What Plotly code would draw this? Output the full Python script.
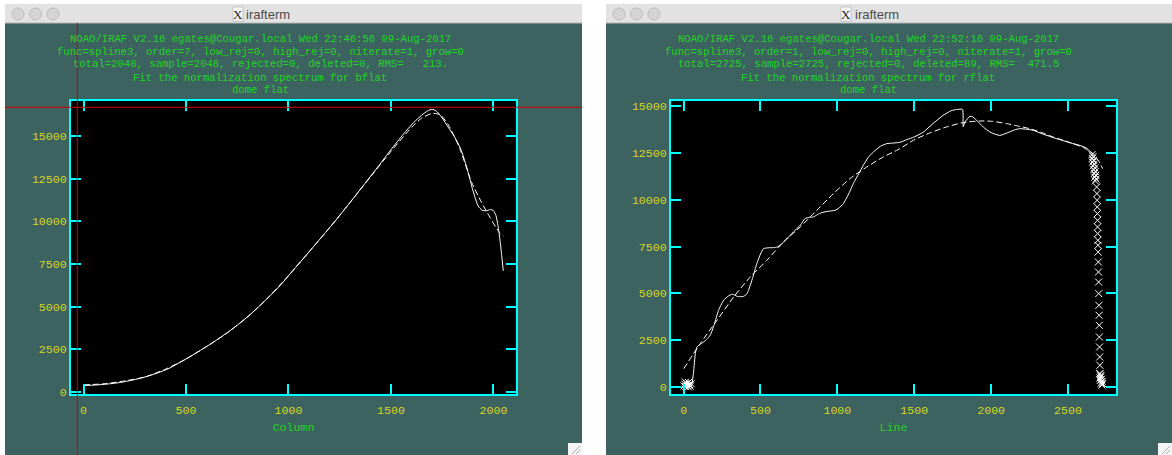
import plotly.graph_objects as go

W, H = 1172, 455

# ---------------- data ----------------
bflat_col = [1, 60, 120, 180, 240, 300, 360, 420, 480, 540, 600, 660, 720, 780, 840, 900, 960, 1010,
             1060, 1110, 1160, 1220, 1300, 1380, 1440, 1500, 1560, 1610, 1650, 1680, 1700, 1720, 1750,
             1780, 1810, 1840, 1870, 1900, 1925, 1945, 1965, 1985, 2000, 2012, 2022, 2032, 2041, 2048]
bflat_counts = [380, 410, 470, 560, 700, 880, 1110, 1400, 1800, 2220, 2660, 3130, 3640, 4200, 4830, 5520,
                6250, 6950, 7650, 8350, 9050, 9900, 11100, 12330, 13250, 14200, 15100, 15780, 16220, 16480,
                16560, 16480, 16050, 15500, 14950, 14250, 13150, 11800, 10900, 10650, 10620, 10690, 10620,
                10350, 9750, 8900, 7900, 7100]
bflat_fit_col = [1, 100, 200, 300, 400, 500, 600, 700, 800, 900, 1000, 1100, 1200, 1300, 1400, 1500,
                 1600, 1650, 1700, 1740, 1780, 1836, 1893, 1941, 1982, 2031, 2048]
bflat_fit = [420, 480, 650, 880, 1340, 1930, 2660, 3450, 4400, 5520, 6820, 8200, 9620, 11100, 12600,
             14100, 15500, 16050, 16320, 16250, 15650, 14260, 12300, 11130, 10250, 9315, 9150]

rflat_line = [55, 65, 76, 87, 110, 130, 150, 173, 200, 227, 260, 290, 314, 335, 347, 370, 390, 410, 422,
              450, 476, 500, 519, 550, 584, 610, 628, 670, 714, 760, 790, 820, 844, 870, 899, 940, 985,
              1010, 1039, 1070, 1104, 1140, 1169, 1200, 1234, 1280, 1321, 1360, 1407, 1450, 1500, 1558,
              1620, 1688, 1740, 1775, 1814, 1818, 1830, 1862, 1880, 1916, 1960, 2000, 2056, 2100, 2150,
              2186, 2230, 2273, 2330, 2380, 2425, 2480, 2530, 2576, 2620, 2660]
rflat_counts = [200, 800, 1780, 2135, 2300, 2400, 2550, 2760, 3350, 4090, 4630, 4850, 4950, 4900, 4840,
                4820, 4840, 4950, 5160, 5850, 6585, 7100, 7385, 7430, 7440, 7480, 7565, 7900, 8275, 8650,
                8990, 9060, 9075, 9200, 9310, 9380, 9430, 9550, 9790, 10250, 10860, 11400, 11835, 12250,
                12545, 12850, 12990, 13020, 13060, 13200, 13350, 13600, 14050, 14500, 14750, 14810, 14820,
                13900, 14150, 14450, 14420, 14150, 13800, 13580, 13430, 13550, 13720, 13790, 13760, 13705,
                13520, 13380, 13260, 13120, 13000, 12900, 12750, 12450]
rflat_fit_line = [1, 108, 217, 325, 433, 541, 649, 758, 866, 974, 1082, 1191, 1299, 1407, 1494, 1600,
                  1710, 1820, 1927, 2010, 2100, 2180, 2251, 2330, 2403, 2470, 2532, 2600, 2662, 2700, 2725]
rflat_fit = [980, 2315, 3560, 4800, 5870, 6760, 7740, 8540, 9430, 10320, 11125, 11745, 12280, 12725,
             13170, 13560, 13880, 14120, 14200, 14180, 14060, 13920, 13790, 13580, 13345, 13170, 12990,
             12780, 12460, 12050, 11660]

# deleted points (marked with x)
rflat_del_line = [3, 8, 14, 20, 26, 32, 38, 44, 50, 12, 30,
                  2656, 2662, 2658, 2666, 2660, 2670, 2664, 2674, 2668, 2677, 2671, 2680, 2674, 2683, 2678,
                  2686, 2688, 2689, 2690, 2691, 2692, 2692, 2693, 2694, 2695, 2696, 2697, 2698, 2699, 2700,
                  2701, 2702, 2703, 2704, 2705, 2706, 2707, 2708,
                  2705, 2712, 2718, 2722, 2710, 2716, 2725, 2708, 2720, 2714]
rflat_del_counts = [60, 150, 20, 180, 90, 240, 130, 40, 170, 260, 10,
                    12400, 12300, 12200, 12100, 12000, 11900, 11800, 11700, 11600, 11500, 11400, 11300,
                    11200, 11100, 11000,
                    10676, 10324, 9966, 9609, 9256, 8899, 8541, 8189, 7831, 7564, 7207, 6673, 6139, 5605,
                    4986, 4361, 3827, 3293, 2669, 2135, 1601, 1158, 715,
                    700, 550, 420, 300, 350, 200, 180, 480, 100, 620]

left_x_ticks = [0, 500, 1000, 1500, 2000]
right_x_ticks = [0, 500, 1000, 1500, 2000, 2500]
y_ticks = [0, 2500, 5000, 7500, 10000, 12500, 15000]

title_left = ["NOAO/IRAF V2.16 egates@Cougar.local Wed 22:46:56 09-Aug-2017",
              "func=spline3, order=7, low_rej=0, high_rej=0, niterate=1, grow=0",
              "total=2048, sample=2048, rejected=0, deleted=0, RMS=   213.",
              "Fit the normalization spectrum for bflat",
              "dome flat"]
title_right = ["NOAO/IRAF V2.16 egates@Cougar.local Wed 22:52:16 09-Aug-2017",
               "func=spline3, order=1, low_rej=0, high_rej=0, niterate=1, grow=0",
               "total=2725, sample=2725, rejected=0, deleted=89, RMS=  471.5",
               "Fit the normalization spectrum for rflat",
               "dome flat"]
window_title = "irafterm"
left_xlabel = "Column"
right_xlabel = "Line"

# ---------------- styles ----------------
TEAL = "#3d6361"
CYAN = "#00ffff"
YEL = "#d6d61e"
GRN = "#22d422"
MONO = "Liberation Mono"


def px(x):
    return x / W


def py(y):
    return 1 - y / H


fig = go.Figure()
fig.add_trace(go.Scatter(x=bflat_col, y=bflat_counts, mode="lines", xaxis="x", yaxis="y",
                         line=dict(color="white", width=1, shape="spline", smoothing=0.6)))
fig.add_trace(go.Scatter(x=bflat_fit_col, y=bflat_fit, mode="lines", xaxis="x", yaxis="y",
                         line=dict(color="white", width=1, dash="6px,3px", shape="spline", smoothing=0.6)))
fig.add_trace(go.Scatter(x=rflat_line, y=rflat_counts, mode="lines", xaxis="x2", yaxis="y2",
                         line=dict(color="white", width=1, shape="spline", smoothing=0.5)))
fig.add_trace(go.Scatter(x=rflat_fit_line, y=rflat_fit, mode="lines", xaxis="x2", yaxis="y2",
                         line=dict(color="white", width=1, dash="6px,3px", shape="spline", smoothing=0.6)))
fig.add_trace(go.Scatter(x=rflat_del_line, y=rflat_del_counts, mode="markers", xaxis="x2", yaxis="y2",
                         marker=dict(symbol="x-thin", size=7, line=dict(color="white", width=1))))


def axis_common():
    return dict(ticks="inside", ticklen=10, tickwidth=2, tickcolor=CYAN, showline=True,
                linecolor=CYAN, linewidth=2, mirror="allticks", showgrid=False, zeroline=False,
                tickfont=dict(family=MONO, size=11.6, color=YEL), automargin=False,
                tickmode="array")


PL_TOP, PL_BOT = 101, 394
LX0, LX1 = 71, 516
RX0, RX1 = 671, 1116
ydom = [py(PL_BOT), py(PL_TOP)]
xa = axis_common(); xa.update(domain=[px(LX0), px(LX1)], range=[-61, 2110], anchor="y",
                              tickvals=left_x_ticks, ticktext=[str(v) for v in left_x_ticks],
                              ticklabelstandoff=4,
                              title=dict(text=left_xlabel, font=dict(family=MONO, size=11.6, color=GRN), standoff=7))
ya = axis_common(); ya.update(domain=ydom, range=[-117, 17050], anchor="x",
                              tickvals=y_ticks, ticktext=[str(v) for v in y_ticks])
xa2 = axis_common(); xa2.update(domain=[px(RX0), px(RX1)], range=[-82, 2812], anchor="y2",
                                tickvals=right_x_ticks, ticktext=[str(v) for v in right_x_ticks],
                                ticklabelstandoff=4,
                                title=dict(text=right_xlabel, font=dict(family=MONO, size=11.6, color=GRN), standoff=7))
ya2 = axis_common(); ya2.update(domain=ydom, range=[-374, 15267], anchor="x2",
                                tickvals=y_ticks, ticktext=[str(v) for v in y_ticks])

shapes = []
annotations = []
for (x0, x1, cx, icon_x, text_x, plx0, plx1) in [(5, 582, 260, 233, 268, LX0, LX1),
                                                  (606, 1172, 868, 841, 877, RX0, RX1)]:
    shapes.append(dict(type="rect", xref="paper", yref="paper", x0=px(x0), x1=px(x1), y0=0, y1=py(23),
                       fillcolor=TEAL, line=dict(width=0), layer="below"))
    shapes.append(dict(type="rect", xref="paper", yref="paper", x0=px(plx0), x1=px(plx1), y0=py(PL_BOT),
                       y1=py(PL_TOP), fillcolor="black", line=dict(width=0), layer="below"))
    shapes.append(dict(type="rect", xref="paper", yref="paper", x0=px(x0), x1=px(x1), y0=py(23), y1=py(4),
                       fillcolor="#e2e2e2", line=dict(width=0), layer="below"))
    shapes.append(dict(type="line", xref="paper", yref="paper", x0=px(x0), x1=px(x1), y0=py(23), y1=py(23),
                       line=dict(color="#b8b8b8", width=1), layer="below"))
    for k in range(3):
        c = x0 + 13 + 17.5 * k
        shapes.append(dict(type="circle", xref="paper", yref="paper", x0=px(c - 6), x1=px(c + 6),
                           y0=py(20), y1=py(8), fillcolor="#d4d4d4",
                           line=dict(color="#bcbcbc", width=1), layer="below"))
    shapes.append(dict(type="rect", xref="paper", yref="paper", x0=px(icon_x), x1=px(icon_x + 10),
                       y0=py(21), y1=py(7), fillcolor="#f6f6f6", line=dict(color="#a0a0a0", width=0.5),
                       layer="below"))
    annotations.append(dict(text="X", x=px(icon_x + 5), y=py(14), xref="paper", yref="paper",
                            showarrow=False, font=dict(family="Liberation Serif", size=13, color="#222"),
                            xanchor="center", yanchor="middle"))
    annotations.append(dict(text=window_title, x=px(text_x), y=py(14), xref="paper", yref="paper",
                            showarrow=False, font=dict(family="Liberation Sans", size=13, color="#4a4a4a"),
                            xanchor="center", yanchor="middle"))
    # resize grip
    shapes.append(dict(type="rect", xref="paper", yref="paper", x0=px(x1 - 14), x1=px(x1), y0=0, y1=py(443),
                       fillcolor="#f4f4f4", line=dict(width=0), layer="above"))
    shapes.append(dict(type="line", xref="paper", yref="paper", x0=px(x1 - 10), x1=px(x1 - 2), y0=py(454),
                       y1=py(446), line=dict(color="#b0b0b0", width=1), layer="above"))
    shapes.append(dict(type="line", xref="paper", yref="paper", x0=px(x1 - 6), x1=px(x1 - 2), y0=py(454),
                       y1=py(450), line=dict(color="#b0b0b0", width=1), layer="above"))

line_y = [39, 52, 64, 78, 90]
for lines, cx in [(title_left, 260), (title_right, 868)]:
    for t, yy in zip(lines, line_y):
        annotations.append(dict(text=t, x=px(cx), y=py(yy), xref="paper", yref="paper", showarrow=False,
                                font=dict(family=MONO, size=10.6, color=GRN),
                                xanchor="center", yanchor="middle"))

# red crosshair cursor in left window
shapes.append(dict(type="line", xref="paper", yref="paper", x0=px(77.3), x1=px(77.3), y0=0, y1=py(23),
                   line=dict(color="#d00000", width=1), layer="above"))
shapes.append(dict(type="line", xref="paper", yref="paper", x0=px(5), x1=px(582), y0=py(107.3), y1=py(107.3),
                   line=dict(color="#d00000", width=1), layer="above"))

fig.update_layout(width=W, height=H, margin=dict(l=0, r=0, t=0, b=0), autosize=False,
                  paper_bgcolor="white", plot_bgcolor="black", showlegend=False,
                  xaxis=xa, yaxis=ya, xaxis2=xa2, yaxis2=ya2,
                  shapes=shapes, annotations=annotations)

fig.write_html("out.html", config={"displayModeBar": False},
               post_script="document.body.style.margin='0';document.body.style.padding='0';")
